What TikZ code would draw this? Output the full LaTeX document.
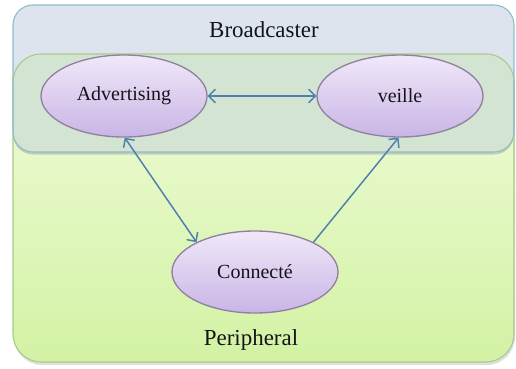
\documentclass[tikz,border=0pt]{standalone}
\usepackage{fontspec}
\setmainfont{Liberation Serif}
\newfontfamily\diagserif{Liberation Serif}
\usetikzlibrary{shapes.geometric,arrows.meta}
\definecolor{bcfill}{HTML}{DEE4EE}
\definecolor{bcline}{HTML}{8EBCCB}
\definecolor{ovfill}{HTML}{D4E4D2}
\definecolor{pftop}{HTML}{F0FCDA}
\definecolor{pfbot}{HTML}{D3F2A4}
\definecolor{pfline}{HTML}{A9C98A}
\definecolor{eltop}{HTML}{F0E8F9}
\definecolor{elbot}{HTML}{C9B5E6}
\definecolor{elline}{HTML}{8E829E}
\definecolor{arr}{HTML}{4D80AE}
\definecolor{txt}{HTML}{141418}
\tikzset{
  state/.style={ellipse, draw=elline, line width=1pt, top color=eltop, bottom color=elbot,
    minimum width=124.5pt, minimum height=61.5pt, inner sep=0pt, text=txt, font=\diagserif\fontsize{15}{18}\selectfont},
  boxlabel/.style={text=txt, font=\diagserif\fontsize{17.2}{20}\selectfont, inner sep=0pt},
  link/.style={draw=arr, line width=1.1pt, arrows={Straight Barb[length=5pt,width=10pt]-Straight Barb[length=5pt,width=10pt]}},
  linkone/.style={draw=arr, line width=1.1pt, arrows={-Straight Barb[length=5pt,width=10pt]}}
}
\begin{document}
\begin{tikzpicture}[x=0.75pt,y=-0.75pt]
\useasboundingbox (0,0) rectangle (516,368);
% shadows
\fill[black!25, opacity=0.5, rounded corners=21pt] (14,57) rectangle (515,365);
% peripheral box
\path[top color=pftop, bottom color=pfbot, rounded corners=21pt] (13,54) rectangle (514,362);
% broadcaster box
\fill[bcfill, rounded corners=15pt] (13,5) rectangle (514,152);
% overlap
\begin{scope}
  \clip[rounded corners=21pt] (13,54) rectangle (514,362);
  \fill[black!40, opacity=0.45, rounded corners=15pt] (13,7) rectangle (514,154.5);
  \fill[ovfill, rounded corners=15pt] (13,5) rectangle (514,152);
\end{scope}
\draw[pfline, line width=0.8pt, rounded corners=21pt] (13,54) rectangle (514,362);
\draw[bcline, line width=0.8pt, rounded corners=15pt] (13,5) rectangle (514,152);

\node[boxlabel] (bc) at (264,30) {Broadcaster};
\node[boxlabel] (pf) at (251,340) {Peripheral};

\node[state] (adv) at (124,96) {Advertising};
\node[state] (veille) at (400,96) {veille};
\node[state] (conn) at (255,272) {Connecté};

\draw[link] (adv.east) -- (veille.west);
\draw[link] (adv.-89) -- (conn.153);
\draw[linkone] (conn.27) -- (veille.-92);
\end{tikzpicture}
\end{document}
